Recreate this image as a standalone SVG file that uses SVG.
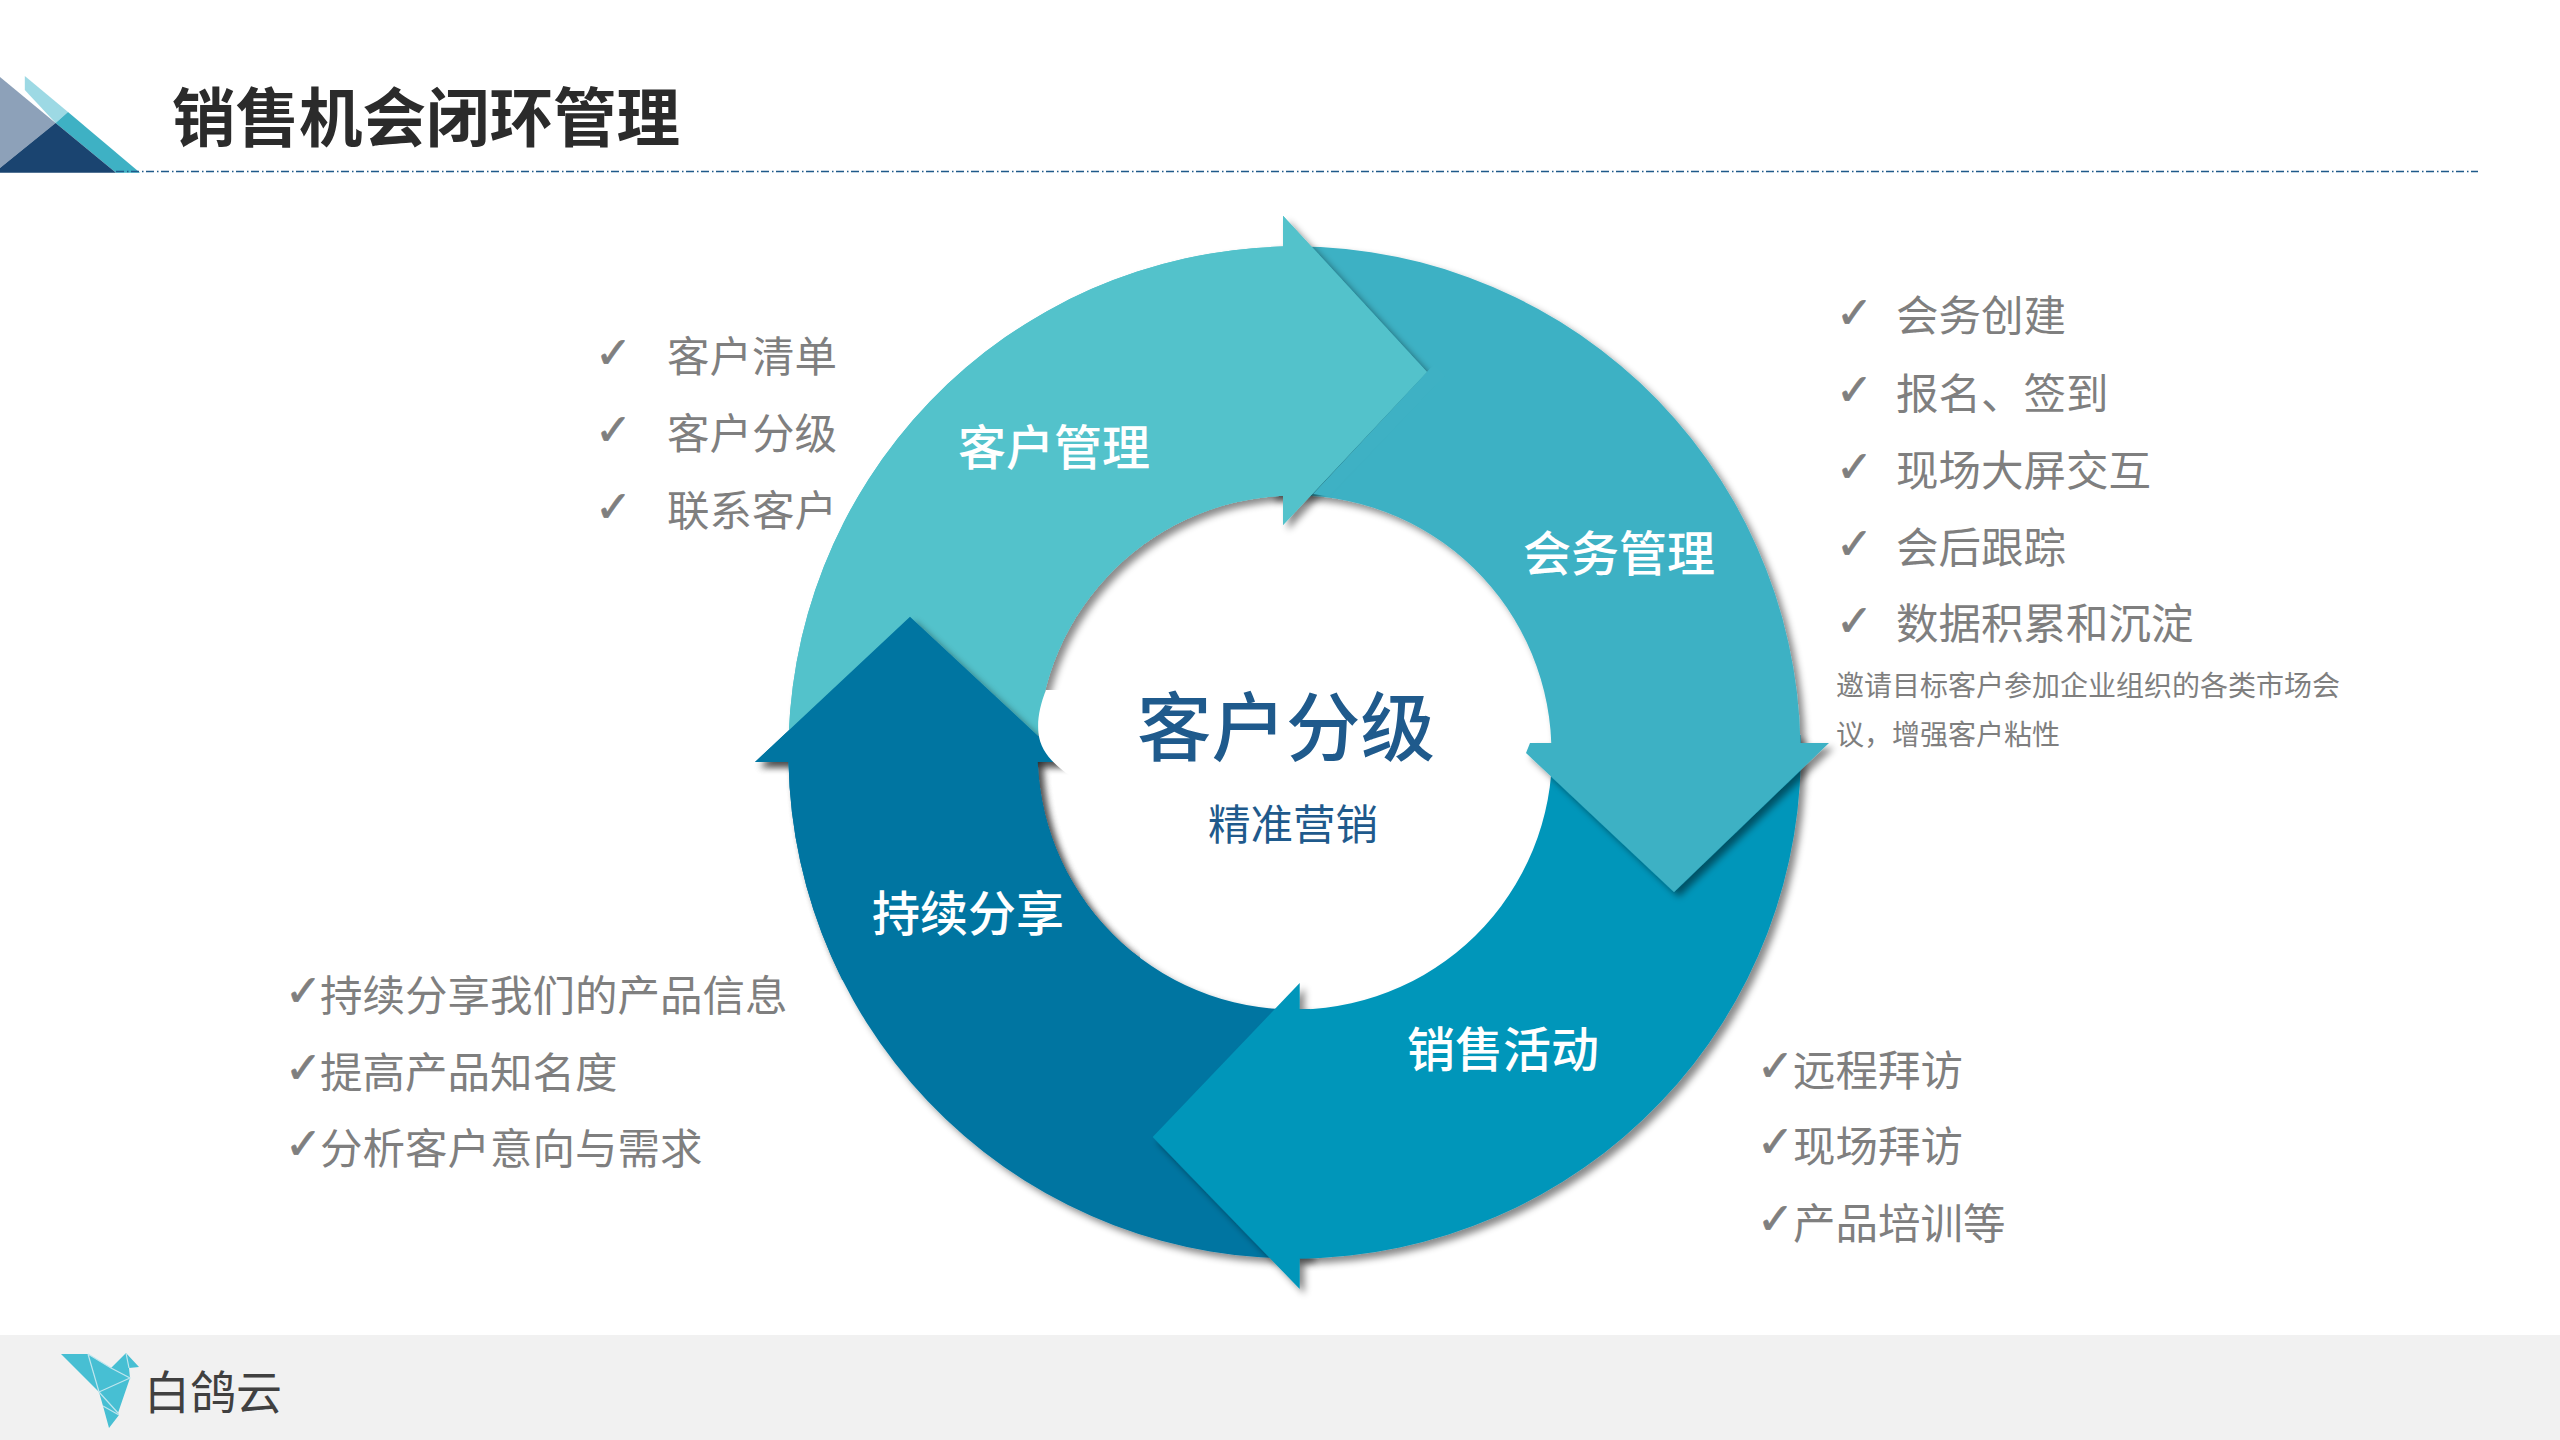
<svg xmlns="http://www.w3.org/2000/svg" xmlns:xlink="http://www.w3.org/1999/xlink" width="2560" height="1440" viewBox="0 0 2560 1440">
<style>
text{font-family:"Noto Sans CJK SC","Noto Sans",sans-serif}
.li{font-size:42.5px;fill:#7f7f7f}
text.ck{font-family:"DejaVu Sans",sans-serif;fill:#7f7f7f;stroke:#7f7f7f;stroke-width:0.7;font-size:44px}
.lb{font-size:48px;fill:#fff;font-weight:500}
.sm{font-size:28px;fill:#7f7f7f}
.fc{fill:#47BFD3}
.fl{stroke:#bfe6ee;stroke-width:1.2;fill:none}
</style>
<defs>
<filter id="sh" filterUnits="userSpaceOnUse" x="0" y="0" width="2560" height="1440">
<feDropShadow dx="5" dy="5" stdDeviation="3.5" flood-color="#000" flood-opacity="0.46"/>
</filter>
<path id="a4" d="M1310,1258.3 A506,506 0 0 1 788.5,762 L755,762 L910,616.7 L1066,762 L1037.7,762 A257,257 0 0 0 1310,1009.1 Z"/>
<path id="a1" d="M788.5,760 A506,506 0 0 1 1283,246.6 L1283,215.7 L1426.8,372 L1283,525 L1283,495.8 A257,257 0 0 0 1037.7,760 Z"/>
<clipPath id="c4"><rect x="700" y="560" width="440" height="420"/></clipPath>
</defs>
<rect width="2560" height="1440" fill="#fff"/>
<g id="header">
<polygon points="24.8,76 68,112 55.6,123 24.8,90" fill="#9DD9E4"/>
<polygon points="68,112 140,172.7 116,172.7 55.6,123" fill="#3EB1C4"/>
<polygon points="0,77 55.6,123 0,168" fill="#8DA1B9"/>
<polygon points="55.6,123 116,172.7 0,172.7 0,168" fill="#1A4470"/>
<line x1="116" y1="171.5" x2="2478" y2="171.5" stroke="#1F5A8A" stroke-width="1.5" stroke-dasharray="8 3 1.5 2.5"/>
<text x="172" y="141" font-size="63.5" font-weight="700" fill="#2b2b2b">销售机会闭环管理</text>
</g>
<g id="node-sharing-base"><use href="#a4" fill="#0175A1" filter="url(#sh)"/></g>
<g id="node-sales">
<path d="M1800.5,735 A506,506 0 0 1 1299.7,1258.5 L1299.7,1289 L1152.7,1137 L1299.7,983 L1299.7,1009.5 A257,257 0 0 0 1551.5,735 Z" fill="#0496BA" filter="url(#sh)"/>
<text class="lb" x="1407" y="1067">销售活动</text>
</g>
<g id="node-meeting">
<path d="M1270,247 A506,506 0 0 1 1800.4,743 L1829,743 L1674,892 L1526,753 L1530,743 L1551.3,743 A257,257 0 0 0 1270,496.5 Z" fill="#3EB1C4" filter="url(#sh)"/>
<text class="lb" x="1523" y="571">会务管理</text>
</g>
<g id="node-customer">
<use href="#a1" fill="#53C2CB" filter="url(#sh)"/>
<polygon points="1426.8,372 1313,494 1329,496.5 1445,376 1434,364" fill="#3EB1C4"/>
<use href="#a1" fill="#53C2CB"/>
<text class="lb" x="958" y="465">客户管理</text>
</g>
<g id="node-sharing">
<g clip-path="url(#c4)"><use href="#a4" fill="#0175A1" filter="url(#sh)"/></g>
<text class="lb" x="872" y="931">持续分享</text>
</g>
<path id="center-mask" d="M1046,690 C1040,705 1037,720 1038.5,733 C1040,750 1052,763 1070,776 L1110,776 L1110,690 Z" fill="#fff"/>
<g id="node-center">
<text x="1137" y="755" font-size="74.5" font-weight="500" fill="#1F5A8C">客户分级</text>
<text x="1208" y="840" font-size="42.5" fill="#1F5A8C">精准营销</text>
</g>
<g id="list-customer">
<text class="ck" x="595" y="368">✓</text><text class="li" x="667" y="372">客户清单</text>
<text class="ck" x="595" y="445">✓</text><text class="li" x="667" y="449">客户分级</text>
<text class="ck" x="595" y="522">✓</text><text class="li" x="667" y="526">联系客户</text>
</g>
<g id="list-meeting">
<text class="ck" x="1836" y="328">✓</text><text class="li" x="1896" y="331">会务创建</text>
<text class="ck" x="1836" y="405">✓</text><text class="li" x="1896" y="409">报名、签到</text>
<text class="ck" x="1836" y="482">✓</text><text class="li" x="1896" y="486">现场大屏交互</text>
<text class="ck" x="1836" y="559">✓</text><text class="li" x="1896" y="563">会后跟踪</text>
<text class="ck" x="1836" y="636">✓</text><text class="li" x="1896" y="639">数据积累和沉淀</text>
<text class="sm" x="1836" y="696">邀请目标客户参加企业组织的各类市场会</text>
<text class="sm" x="1836" y="745">议，增强客户粘性</text>
</g>
<g id="list-sharing">
<text class="ck" x="285" y="1006">✓</text><text class="li" x="320" y="1011">持续分享我们的产品信息</text>
<text class="ck" x="285" y="1083">✓</text><text class="li" x="320" y="1088">提高产品知名度</text>
<text class="ck" x="285" y="1159">✓</text><text class="li" x="320" y="1164">分析客户意向与需求</text>
</g>
<g id="list-sales">
<text class="ck" x="1757" y="1081">✓</text><text class="li" x="1793" y="1086">远程拜访</text>
<text class="ck" x="1757" y="1157">✓</text><text class="li" x="1793" y="1162">现场拜访</text>
<text class="ck" x="1757" y="1234">✓</text><text class="li" x="1793" y="1239">产品培训等</text>
</g>
<g id="footer">
<rect x="0" y="1335" width="2560" height="105" fill="#F1F1F1"/>
<polygon class="fc" points="61,1354 88,1354 111,1368 126,1353 139,1367 129,1368 130,1378 118,1413 119,1415 109,1428 103,1406 99,1392"/>
<path class="fl" d="M88,1354 L99,1392 L130,1378 L111,1368 L88,1354 M99,1392 L118,1413 M103,1406 L119,1415 M126,1353 L129,1368"/>
<text x="144" y="1409" font-size="46" fill="#404040">白鸽云</text>
</g>
</svg>
